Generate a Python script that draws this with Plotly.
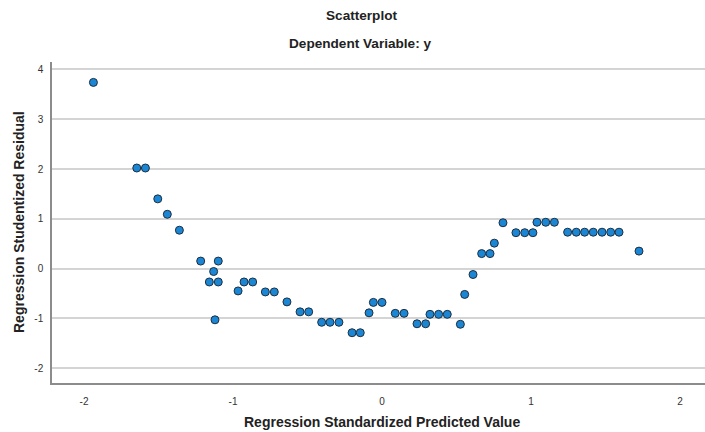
import plotly.graph_objects as go

# Regression standardized predicted values and studentized residuals
pred = [-1.937, -1.646, -1.588, -1.505, -1.441, -1.360,
        -1.217, -1.099, -1.130, -1.159, -1.099, -1.121, -0.966, -0.926, -0.868,
        -0.783, -0.723, -0.638, -0.550, -0.492, -0.405, -0.349, -0.289,
        -0.201, -0.146, -0.087, -0.058, 0.000, 0.089, 0.148, 0.235, 0.293,
        0.322, 0.380, 0.438, 0.526, 0.555, 0.611, 0.669, 0.725, 0.754, 0.812,
        0.899, 0.958, 1.013, 1.040, 1.099, 1.157,
        1.246, 1.304, 1.360, 1.418, 1.477, 1.535, 1.591, 1.725]
resid = [3.74, 2.02, 2.02, 1.40, 1.09, 0.77,
         0.15, 0.15, -0.06, -0.27, -0.27, -1.03, -0.45, -0.27, -0.27,
         -0.47, -0.47, -0.67, -0.87, -0.87, -1.08, -1.08, -1.08,
         -1.29, -1.29, -0.89, -0.68, -0.68, -0.90, -0.90, -1.11, -1.11,
         -0.92, -0.92, -0.92, -1.12, -0.52, -0.12, 0.30, 0.30, 0.51, 0.92,
         0.72, 0.72, 0.72, 0.93, 0.93, 0.93,
         0.73, 0.73, 0.73, 0.73, 0.73, 0.73, 0.73, 0.35]

x_ticks = [-2, -1, 0, 1, 2]
y_ticks = [-2, -1, 0, 1, 2, 3, 4]

FONT = "Liberation Sans, Arial, sans-serif"
W, H = 705, 432
ML, MR, MT, MB = 52, 0, 62, 49

fig = go.Figure(go.Scatter(
    x=pred, y=resid, mode="markers",
    marker=dict(size=8, color="#1a86d4",
                line=dict(color="#1f2f3f", width=1)),
    hoverinfo="x+y",
))

fig.update_layout(
    width=W, height=H,
    margin=dict(l=ML, r=MR, t=MT, b=MB),
    paper_bgcolor="white", plot_bgcolor="white",
    showlegend=False,
    font=dict(family=FONT, color="#222"),
    xaxis=dict(range=[-2.215, 2.168], tickvals=x_ticks,
               ticktext=[str(v) for v in x_ticks],
               showgrid=False, zeroline=False,
               showline=True, linecolor="#8c8c8c", linewidth=1.5,
               ticks="", tickfont=dict(size=10, color="#333"),
               ticklabelstandoff=8),
    yaxis=dict(range=[-2.30, 4.15], tickvals=y_ticks,
               ticktext=[str(v) for v in y_ticks],
               showgrid=True, gridcolor="#d4d4d4", gridwidth=2,
               zeroline=False,
               showline=True, linecolor="#8c8c8c", linewidth=1.5,
               ticks="", tickfont=dict(size=10, color="#333"),
               ticklabelstandoff=5),
)

# Titles placed by pixel centre (x, y, text, size, angle)
texts = [
    (361, 15, "<b>Scatterplot</b>", 13.6, 0),
    (360, 43, "<b>Dependent Variable: y</b>", 13.6, 0),
    (382, 422, "<b>Regression Standardized Predicted Value</b>", 14, 0),
    (19, 222, "<b>Regression Studentized Residual</b>", 14, -90),
]
plot_w = W - ML - MR
plot_h = H - MT - MB
for px, py, txt, size, ang in texts:
    fig.add_annotation(
        text=txt, textangle=ang, showarrow=False,
        xref="paper", yref="paper",
        x=(px - ML) / plot_w, y=(H - MB - py) / plot_h,
        xanchor="center", yanchor="middle",
        font=dict(size=size, color="#222"),
    )

fig.write_html("out.html")
